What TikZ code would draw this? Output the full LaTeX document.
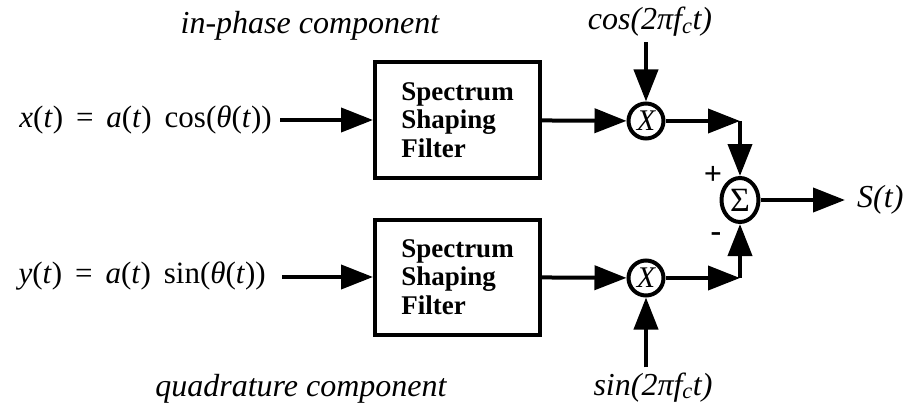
\documentclass[tikz,border=0pt]{standalone}
\usepackage{fontspec}
\setmainfont{Liberation Serif}
\usetikzlibrary{arrows.meta,shapes.geometric}

\begin{document}
\begin{tikzpicture}[x=1pt,y=-1pt,
  sig/.style={line width=4pt,-{Triangle[length=32pt,width=24pt]}},
  filt/.style={draw,line width=4pt,minimum width=165pt,minimum height=115pt,inner sep=0pt,align=left,font=\fontsize{27}{28.5}\selectfont\bfseries},
  mult/.style={draw,circle,line width=4pt,minimum size=35pt,inner sep=0pt,font=\fontsize{30}{30}\selectfont\itshape},
  sumnode/.style={draw,ellipse,line width=4pt,minimum width=37pt,minimum height=44pt,inner sep=0pt,font=\fontsize{34}{34}\selectfont},
  lbl/.style={inner sep=0pt,font=\fontsize{32}{34}\selectfont\itshape},
  eq/.style={inner sep=0pt,font=\fontsize{31}{34}\selectfont},
  sgn/.style={inner sep=0pt,font=\fontsize{32}{32}\selectfont\bfseries}]
\useasboundingbox (0,0) rectangle (908,404);
\node[lbl,anchor=base] (ip) at (310,34) {in-phase component};
\node[lbl,anchor=base] (qd) at (301,396) {quadrature component};
\node[eq,anchor=east] (xin) at (272,120) {\textit{x}(\textit{t}) \,=\, \textit{a}(\textit{t}) \,cos(\textit{θ}(\textit{t}))};
\node[eq,anchor=east] (yin) at (266,276) {\textit{y}(\textit{t}) \,=\, \textit{a}(\textit{t}) \,sin(\textit{θ}(\textit{t}))};
\node[filt] (f1) at (457.5,120) {Spectrum\\Shaping\\Filter};
\node[filt] (f2) at (457.5,277) {Spectrum\\Shaping\\Filter};
\node[mult] (m1) at (646,121) {X};
\node[mult] (m2) at (646,278) {X};
\node[sumnode] (s) at (740,200) {Σ};
\coordinate (c1) at (740,121);
\coordinate (c2) at (740,278);
\node[lbl,anchor=base] (cosin) at (650,30) {cos(2π\textit{f}\textsubscript{\textit{c}}\textit{t})};
\node[lbl,anchor=base] (sinin) at (653,395) {sin(2π\textit{f}\textsubscript{\textit{c}}\textit{t})};
\node[lbl,anchor=west] (out) at (857,200) {S(t)};
\node[sgn] (pl) at (713,175) {+};
\node[sgn] (mi) at (716,237) {-};
\draw[sig,shorten <=8pt] (xin) -- (f1);
\draw[sig,shorten <=16pt] (yin.east |- f2) -- (f2);
\draw[sig] (f1) -- (m1);
\draw[sig] (f2) -- (m2);
\draw[sig,shorten <=5pt] (cosin.south -| m1) -- (m1);
\draw[sig,shorten <=5pt] (sinin.north -| m2) -- (m2);
\draw[sig] (m1) -- (c1);
\draw[sig] (m2) -- (c2);
\draw[sig] (c1) -- (s);
\draw[sig] (c2) -- (s);
\draw[sig,shorten >=12pt] (s) -- (out);
\end{tikzpicture}
\end{document}
